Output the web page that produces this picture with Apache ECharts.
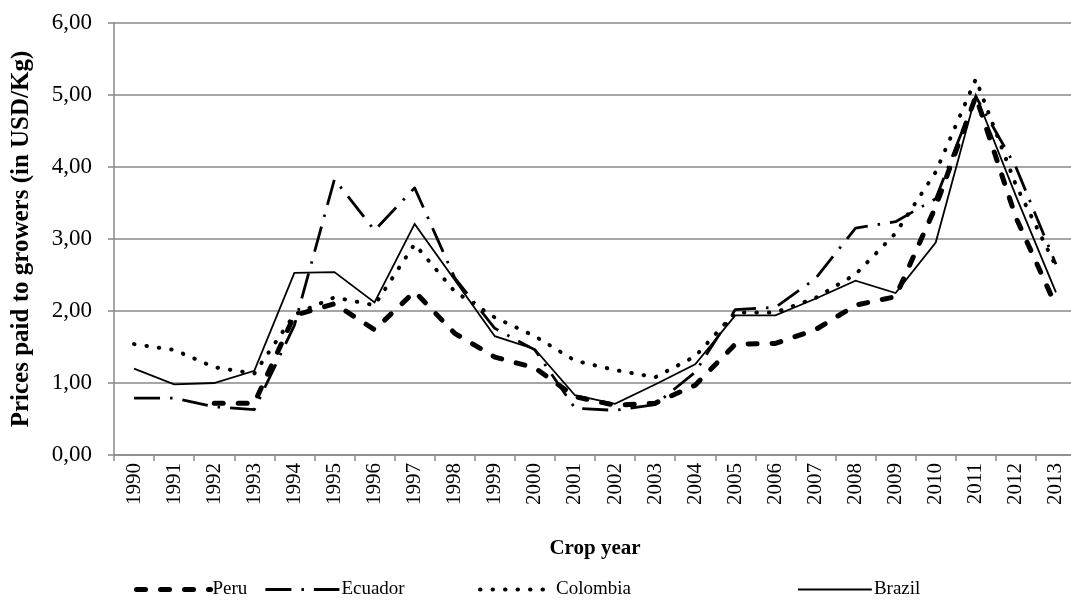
<!DOCTYPE html>
<html>
<head>
<meta charset="utf-8">
<script src="https://cdn.jsdelivr.net/npm/echarts@6/dist/echarts.min.js"></script>
<style>
html,body{margin:0;padding:0;background:#fff;}
#chart{width:1071px;height:605px;}
</style>
</head>
<body>
<div id="chart"></div>
<script>
const years = ['1990','1991','1992','1993','1994','1995','1996','1997','1998','1999','2000','2001','2002','2003','2004','2005','2006','2007','2008','2009','2010','2011','2012','2013'];
const peru     = [null, null, 0.72, 0.72, 1.94, 2.10, 1.74, 2.27, 1.69, 1.36, 1.21, 0.81, 0.69, 0.72, 0.97, 1.54, 1.55, 1.74, 2.08, 2.20, 3.45, 4.98, 3.30, 2.07];
const ecuador  = [0.79, 0.79, 0.67, 0.63, 1.80, 3.83, 3.12, 3.71, 2.46, 1.76, 1.46, 0.65, 0.62, 0.70, 1.15, 2.02, 2.05, 2.45, 3.15, 3.24, 3.56, 4.98, 4.00, 2.65];
const colombia = [1.54, 1.46, 1.22, 1.13, 1.95, 2.19, 2.08, 2.93, 2.27, 1.91, 1.65, 1.31, 1.18, 1.08, 1.37, 1.98, 1.98, 2.18, 2.51, 3.08, 3.93, 5.22, 3.75, 2.62];
const brazil   = [1.20, 0.98, 1.00, 1.17, 2.53, 2.54, 2.12, 3.21, 2.43, 1.65, 1.47, 0.83, 0.71, 0.98, 1.26, 1.94, 1.94, 2.17, 2.42, 2.25, 2.95, 5.00, 3.60, 2.26];

const FONT = '"Liberation Serif", "Times New Roman", serif';
const GRAY = '#898989';
const chart = echarts.init(document.getElementById('chart'), null, {renderer:'canvas'});

const styles = {
  Peru:     {color: '#000', width: 5, type: [9, 15], cap: 'round', join: 'round'},
  Ecuador:  {color: '#000', width: 2.8, type: [26, 10, 2.5, 10], cap: 'butt', join: 'round'},
  Colombia: {color: '#000', width: 4, type: [0.5, 12], cap: 'round', join: 'round'},
  Brazil:   {color: '#000', width: 1.8, type: 'solid', join: 'miter'}
};

function legendFor(name, left) {
  return {
    data: [name], left: left, top: 580, orient: 'horizontal',
    itemWidth: 74, itemHeight: 18, itemGap: 0, padding: 0,
    itemStyle: {color: 'rgba(0,0,0,0)', borderWidth: 0, opacity: 0},
    lineStyle: Object.assign({}, styles[name]),
    textStyle: {fontFamily: FONT, fontSize: 19, color: '#000', padding: [0,0,0,-3]},
    selectedMode: false
  };
}

chart.setOption({
  animation: false,
  backgroundColor: '#fff',
  grid: {left: 114, right: -5, top: 23, bottom: 150, containLabel: false, outerBoundsMode: 'none'},
  legend: [
    legendFor('Peru', 134),
    legendFor('Ecuador', 264),
    legendFor('Colombia', 478),
    legendFor('Brazil', 797)
  ],
  xAxis: {
    type: 'category', data: years, boundaryGap: true,
    name: 'Crop year', nameLocation: 'middle', nameGap: 83,
    nameTextStyle: {fontFamily: FONT, fontSize: 21, fontWeight: 'bold', color: '#000'},
    axisLine: {show: true, lineStyle: {color: GRAY, width: 1.5}},
    axisTick: {show: true, length: 6, inside: false, lineStyle: {color: GRAY, width: 1.5}},
    axisLabel: {rotate: 90, margin: 8, fontFamily: FONT, fontSize: 21, color: '#000', interval: 0},
    splitLine: {show: false}
  },
  yAxis: {
    type: 'value', min: 0, max: 6, interval: 1,
    name: 'Prices paid to growers (in USD/Kg)', nameLocation: 'middle', nameGap: 80, nameRotate: 90,
    nameTextStyle: {fontFamily: FONT, fontSize: 25, fontWeight: 'bold', color: '#000'},
    axisLine: {show: true, lineStyle: {color: GRAY, width: 1.5}},
    axisTick: {show: true, length: 6, lineStyle: {color: GRAY, width: 1.5}},
    axisLabel: {margin: 22, fontFamily: FONT, fontSize: 23, color: '#000',
      formatter: v => v.toFixed(2).replace('.', ',')},
    splitLine: {show: true, lineStyle: {color: GRAY, width: 1.5}}
  },
  series: [
    {name: 'Peru', type: 'line', data: peru, symbol: 'none', connectNulls: false,
     lineStyle: styles.Peru, itemStyle: {color: '#000'}},
    {name: 'Ecuador', type: 'line', data: ecuador, symbol: 'none',
     lineStyle: styles.Ecuador, itemStyle: {color: '#000'}},
    {name: 'Colombia', type: 'line', data: colombia, symbol: 'none',
     lineStyle: styles.Colombia, itemStyle: {color: '#000'}},
    {name: 'Brazil', type: 'line', data: brazil, symbol: 'none',
     lineStyle: styles.Brazil, itemStyle: {color: '#000'}}
  ]
});
</script>
</body>
</html>
